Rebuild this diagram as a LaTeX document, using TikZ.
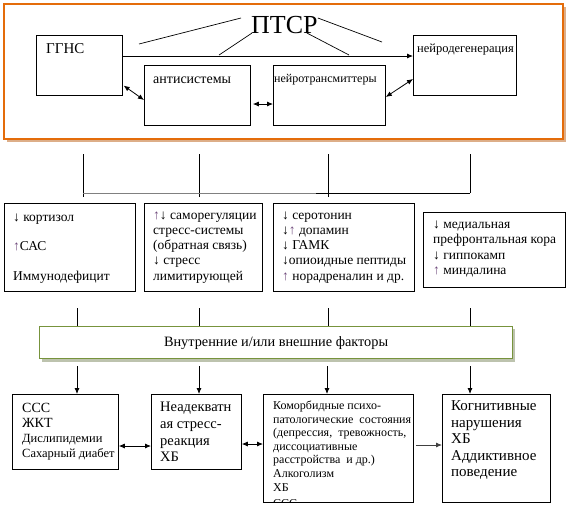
\documentclass[tikz,border=0pt]{standalone}
\usepackage{fontspec}
\setmainfont{Liberation Serif}
\usetikzlibrary{arrows.meta}
\definecolor{framecol}{HTML}{E46C0A}
\definecolor{frameshadow}{HTML}{DDAE88}
\definecolor{factcol}{HTML}{77933C}
\definecolor{factshadow}{HTML}{BDC3AE}
\definecolor{uparcol}{HTML}{6F4A7C}
\newcommand{\upar}{{\color{uparcol}↑}}
\newcommand{\firstline}{\rule{0pt}{1em}}
\tikzset{
    box/.style={draw,line width=0.8pt,anchor=north west,inner sep=0pt},
    txt/.style={anchor=north west,inner sep=0pt,align=left},
    arr/.style={line width=0.8pt,-{Latex[length=6pt,width=5pt]}},
    darr/.style={line width=0.8pt,{Latex[length=6pt,width=5pt]}-{Latex[length=6pt,width=5pt]}},
}
\begin{document}
\begin{tikzpicture}[x=1pt,y=-1pt]
                \useasboundingbox (0,0) rectangle (567,507);
                % upper frame
                \fill[frameshadow] (7,7) rectangle (566,142);
                \draw[framecol,fill=white,line width=1.2pt] (4,4) rectangle (563,139);
                \node[font=\fontsize{26}{28}\selectfont,anchor=base west,inner sep=0pt] (ptsr) at (251,33) {ПТСР};
                \node[box,minimum width=86pt,minimum height=60pt] (ggns) at (36,35) {};
                \node[box,minimum width=106pt,minimum height=60pt] (anti) at (144,65) {};
                \node[box,minimum width=112pt,minimum height=60pt] (neuro) at (273,65) {};
                \node[box,minimum width=103pt,minimum height=60pt] (degen) at (413,35) {};
                \node[txt,font=\fontsize{15}{17}\selectfont] (ggnstxt) at (46,38) {\firstline ГГНС};
                \node[txt,font=\fontsize{14}{16}\selectfont] (antitxt) at (153,69) {\firstline антисистемы};
                \node[txt,font=\fontsize{12}{14}\selectfont] (neurotxt) at (274,70) {\firstline нейротрансмиттеры};
                \node[txt,font=\fontsize{12.5}{14}\selectfont] (degentxt) at (417,39.5) {\firstline нейродегенерация};
                \coordinate (p1) at (139,44);
                \coordinate (p2) at (219,55);
                \coordinate (p3) at (349,55);
                \coordinate (p4) at (382,42);
                \draw[line width=0.7pt] (p1) -- ([shift={(-10,-15)}]ptsr.base west);
                \draw[line width=0.7pt] (p2) -- ([shift={(1,0)}]ptsr.base west);
                \draw[line width=0.7pt] (p3) -- ([shift={(-11,0)}]ptsr.base east);
                \draw[line width=0.7pt] (p4) -- ([shift={(0,-15)}]ptsr.base east);
                \draw[arr] (ggns.east |- 0,56) -- (degen.west |- 0,56);
                \draw[darr,shorten <=1pt] (ggns.east |- 0,85) -- (anti.west |- 0,100);
                \draw[darr,shorten <=2pt] (anti.east |- 0,104) -- (neuro.west |- 0,104);
                \draw[darr] (neuro.east |- 0,97) -- (degen.west |- 0,79);
                % bus
                \foreach \x in {83,199,328} \draw[line width=0.8pt] (\x,154) -- (\x,197);
                \draw[line width=0.8pt] (470,154) -- (470,193);
                \draw[gray,line width=1pt] (83,193) -- (316,193);
                \draw[line width=0.8pt] (316,193) -- (470,193);
                % middle row
                \node[box,minimum width=131pt,minimum height=88pt] (cort) at (4,203) {};
                \node[box,minimum width=118pt,minimum height=88pt] (selfreg) at (144,203) {};
                \node[box,minimum width=141pt,minimum height=88pt] (sero) at (273,203) {};
                \node[box,minimum width=142pt,minimum height=75pt] (cortex) at (423,212) {};
                \node[txt,font=\fontsize{13.5}{29.5}\selectfont] (corttxt) at (13,207.5) {\firstline ↓ кортизол\\\upar САС\\Иммунодефицит};
                \node[txt,font=\fontsize{13.5}{15.2}\selectfont] (selfregtxt) at (153,205.5) {\firstline\upar↓ саморегуляции\\стресс-системы\\(обратная связь)\\↓ стресс\\лимитирующей};
                \node[txt,font=\fontsize{13.5}{15.2}\selectfont] (serotxt) at (282,205.5) {\firstline ↓ серотонин\\↓\upar\ допамин\\↓ ГАМК\\↓опиоидные пептиды\\\upar\ норадреналин и др.};
                \node[txt,font=\fontsize{13.5}{15.3}\selectfont] (cortextxt) at (433,214.8) {\firstline ↓ медиальная\\префронтальная кора\\↓ гиппокамп\\\upar\ миндалина};
                % factors
                \foreach \x in {77,199,328,470} \draw[line width=0.8pt] (\x,308) -- (\x,326);
                \fill[factshadow] (42,329) rectangle (515,362);
                \node[draw=factcol,fill=white,line width=1.2pt,anchor=north west,minimum width=473pt,minimum height=32pt,font=\fontsize{14.3}{16}\selectfont] (factors) at (39,326) {Внутренние и/или внешние факторы};
                % lower row
                \node[box,minimum width=106pt,minimum height=75pt] (sss) at (12,394) {};
                \node[box,minimum width=90pt,minimum height=75pt] (stress) at (151,394) {};
                \node[box,minimum width=150pt,minimum height=108pt] (comorb) at (263,394) {};
                \node[box,minimum width=108pt,minimum height=108pt] (cogn) at (442,394) {};
                \node[txt,font=\fontsize{14}{15}\selectfont] (ssstxt) at (22,398) {\firstline ССС\\ЖКТ\\\fontsize{12.5}{15}\selectfont Дислипидемии\\\fontsize{12.5}{15}\selectfont Сахарный диабет};
                \node[txt,font=\fontsize{14.5}{16.7}\selectfont] (stresstxt) at (160,397) {\firstline Неадекватн\\ая стресс-\\реакция\\ХБ};
                \begin{scope}
                    \clip (comorb.north west) rectangle (comorb.south east);
                    \node[txt,font=\fontsize{12}{13.6}\selectfont] (comorbtxt) at (273,397.3) {\firstline Коморбидные психо-\\патологические \ состояния\\(депрессия, \ тревожность,\\диссоциативные\\расстройства \ и др.)\\Алкоголизм\\ХБ\\[2.5pt]ССС};
                \end{scope}
                \node[txt,font=\fontsize{15}{16.5}\selectfont] (cogntxt) at (451,395.7) {\firstline Когнитивные\\нарушения\\ХБ\\Аддиктивное\\поведение};
                \foreach \x/\b in {77/sss,199/stress,327/comorb,470/cogn}
                    \draw[arr] (\x,366) -- (\x,0 |- \b.north);
                \draw[darr] (sss.east |- 0,446) -- (stress.west |- 0,446);
                \draw[darr] (stress.east |- 0,444) -- (comorb.west |- 0,444);
                \draw[arr,gray!50!black,shorten <=2pt] (comorb.east |- 0,445) -- (cogn.west |- 0,445);
            \end{tikzpicture}
\end{document}
